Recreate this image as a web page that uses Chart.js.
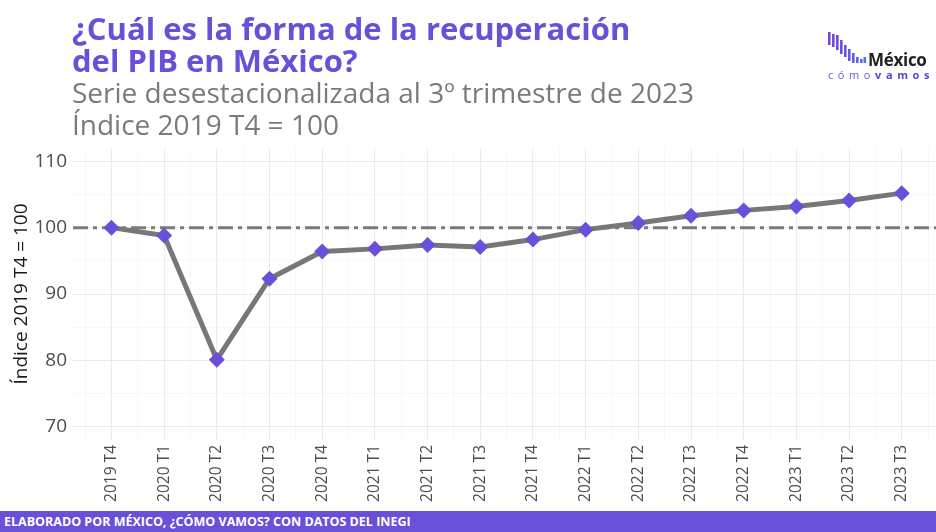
<!DOCTYPE html>
<html lang="es">
<head>
<meta charset="utf-8">
<title>Recuperación del PIB en México</title>
<script src="https://cdn.jsdelivr.net/npm/chart.js@4.4.0/dist/chart.umd.min.js"></script>
<style>
    html, body { margin: 0; padding: 0; background: #fff; }
    body { width: 936px; height: 532px; position: relative; overflow: hidden; font-family: "Open Sans", sans-serif; }
    #chart { position: absolute; left: 0; top: 0; }
    .title { position: absolute; left: 72px; color: #6a4fd8; font-weight: 700; font-size: 31px; line-height: 35px; white-space: nowrap; }
    .subtitle { position: absolute; left: 72px; color: #7a7a7a; font-weight: 400; font-size: 28px; line-height: 33px; white-space: nowrap; }
    #footer { position: absolute; left: 0; top: 511px; width: 936px; height: 21px; background: #6a4fd8; color: #fff;
              font-weight: 700; font-size: 12.5px; line-height: 22px; padding-left: 4px; box-sizing: border-box; }
    #logo { position: absolute; left: 822px; top: 28px; width: 110px; height: 56px; }
    #logo .mx { position: absolute; left: 46px; top: 20px; font-weight: 700; font-size: 17px; color: #222; letter-spacing: -0.3px; }
    #logo .cv { position: absolute; left: 6px; top: 39px; font-size: 11px; letter-spacing: 4.6px; color: #6a5ad8; white-space: nowrap; }
    #logo .cv b { color: #5b45d0; }
</style>
</head>
<body>
<canvas id="chart" width="936" height="532"></canvas>

<div class="title" style="top: 11px;">¿Cuál es la forma de la recuperación</div>
<div class="title" style="top: 43px;">del PIB en México?</div>
<div class="subtitle" style="top: 76px;">Serie desestacionalizada al 3º trimestre de 2023</div>
<div class="subtitle" style="top: 108px;">Índice 2019 T4 = 100</div>

<div id="logo">
    <svg width="46" height="40" style="position:absolute;left:0;top:0">
        <rect x="6" y="4" width="2.6" height="13" fill="#7447d8"/>
        <rect x="10" y="6" width="2.6" height="13" fill="#7049d9"/>
        <rect x="14" y="7" width="2.6" height="15" fill="#6c4cda"/>
        <rect x="18" y="12" width="2.6" height="14" fill="#6851db"/>
        <rect x="22" y="17" width="2.6" height="12" fill="#6456dc"/>
        <rect x="26" y="21" width="2.6" height="12" fill="#605cdd"/>
        <rect x="30" y="25" width="2.6" height="10" fill="#5c62de"/>
        <rect x="34" y="29" width="2.6" height="6" fill="#5868df"/>
        <rect x="38" y="31" width="2.6" height="4" fill="#566ddf"/>
        <rect x="41.5" y="29" width="2.6" height="6" fill="#5472e0"/>
    </svg>
    <div class="mx">México</div>
    <div class="cv">cómo<b>vamos</b></div>
</div>

<div id="footer">ELABORADO POR MÉXICO, ¿CÓMO VAMOS? CON DATOS DEL INEGI</div>

<script>
// Trimestres y valores del índice (2019 T4 = 100)
const quarters = ['2019 T4', '2020 T1', '2020 T2', '2020 T3', '2020 T4', '2021 T1', '2021 T2', '2021 T3',
                  '2021 T4', '2022 T1', '2022 T2', '2022 T3', '2022 T4', '2023 T1', '2023 T2', '2023 T3'];
const pibIndex = [100, 98.8, 80.1, 92.3, 96.4, 96.8, 97.4, 97.1,
                  98.2, 99.7, 100.7, 101.8, 102.6, 103.2, 104.1, 105.2];
const yTicks = [70, 75, 80, 85, 90, 95, 100, 105, 110];
const baseline = 100;

const purple = '#6a4fd8';
const xMin = -0.73, xMax = 15.65;

const lineData = pibIndex.map((v, i) => ({ x: i, y: v }));
const baseData = [{ x: xMin, y: baseline }, { x: xMax, y: baseline }];

// ticks every half quarter: integers are major (labelled), halves are minor
const xTickValues = [];
for (let i = -0.5; i <= quarters.length - 0.5; i += 0.5) xTickValues.push(i);

const ctx = document.getElementById('chart').getContext('2d');
new Chart(ctx, {
    type: 'line',
    data: {
        datasets: [
            {
                label: 'PIB',
                data: lineData,
                borderColor: '#777777',
                borderWidth: 5,
                pointStyle: 'rectRot',
                pointRadius: 8,
                pointHoverRadius: 8,
                pointBackgroundColor: purple,
                pointBorderWidth: 0,
                tension: 0
            },
            {
                label: 'Base',
                data: baseData,
                borderColor: '#7a7a7a',
                borderWidth: 3,
                borderDash: [15, 5, 4, 5],
                pointRadius: 0
            }
        ]
    },
    options: {
        responsive: false,
        animation: false,
        events: [],
        layout: { autoPadding: false, padding: { top: 148, bottom: 21, left: 0, right: 0 } },
        plugins: {
            legend: { display: false },
            tooltip: { enabled: false }
        },
        scales: {
            x: {
                type: 'linear',
                min: xMin,
                max: xMax,
                afterBuildTicks: axis => { axis.ticks = xTickValues.map(v => ({ value: v })); },
                afterFit: axis => {
                    axis.height = 71;
                    axis.paddingLeft = 0;
                    axis.paddingRight = 0;
                },
                border: { display: false },
                grid: {
                    drawTicks: false,
                    color: c => (c.tick && Number.isInteger(c.tick.value)) ? '#ebebeb' : '#f5f5f5',
                    lineWidth: c => (c.tick && Number.isInteger(c.tick.value)) ? 1 : 0.8
                },
                ticks: {
                    autoSkip: false,
                    minRotation: 90,
                    maxRotation: 90,
                    padding: 5,
                    color: '#4d4d4d',
                    font: { family: 'Open Sans', size: 15.5 },
                    callback: v => Number.isInteger(v) ? quarters[v] : ''
                }
            },
            y: {
                min: 68,
                max: 112,
                afterBuildTicks: axis => { axis.ticks = yTicks.map(v => ({ value: v })); },
                afterFit: axis => {
                    axis.width = 73;
                    axis.paddingTop = 0;
                    axis.paddingBottom = 0;
                },
                border: { display: false },
                grid: {
                    drawTicks: false,
                    color: c => (c.tick && c.tick.value % 10 === 0) ? '#ebebeb' : '#f5f5f5',
                    lineWidth: c => (c.tick && c.tick.value % 10 === 0) ? 1 : 0.8
                },
                ticks: {
                    padding: 6,
                    color: '#4d4d4d',
                    font: { family: 'Open Sans', size: 19 },
                    callback: v => (v % 10 === 0) ? v : ''
                },
                title: {
                    display: true,
                    text: 'Índice 2019 T4 = 100',
                    color: '#1a1a1a',
                    font: { family: 'Open Sans', size: 19 },
                    padding: { top: 10, bottom: 0 }
                }
            }
        }
    }
});
</script>
</body>
</html>
